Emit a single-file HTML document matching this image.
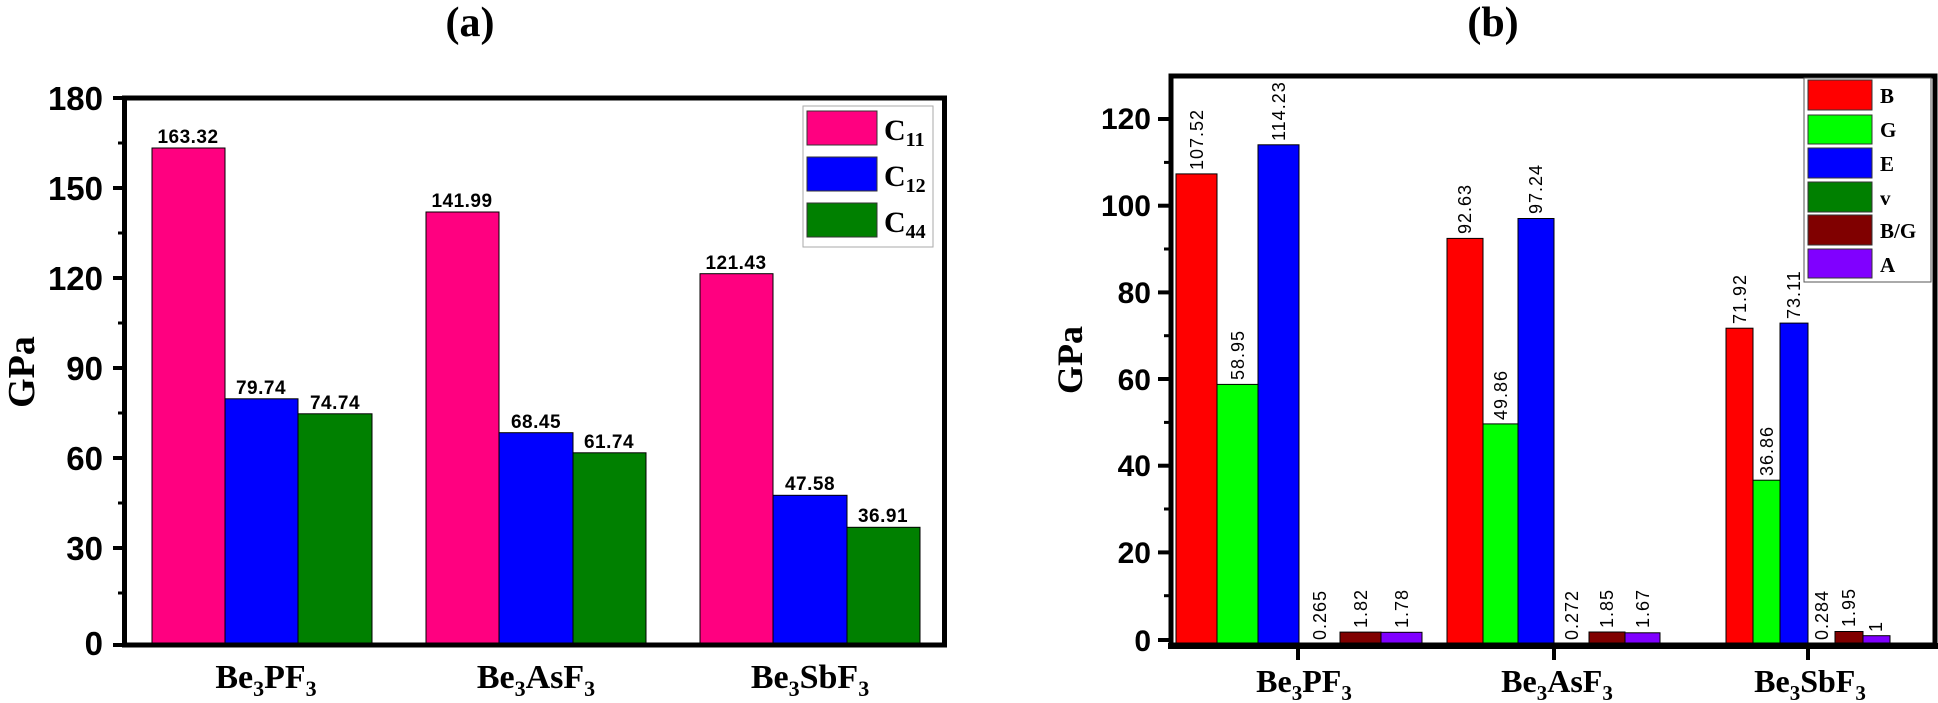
<!DOCTYPE html>
<html><head><meta charset="utf-8"><style>
html,body{margin:0;padding:0;background:#fff;}
svg{display:block;}
.t{font-family:"Liberation Sans",sans-serif;font-weight:bold;}
.s{font-family:"Liberation Serif",serif;font-weight:bold;}
</style></head><body>
<svg width="1938" height="703" viewBox="0 0 1938 703" xmlns="http://www.w3.org/2000/svg">
<!-- Titles -->
<text class="s" x="470" y="36" font-size="42" text-anchor="middle">(a)</text>
<text class="s" x="1493" y="36" font-size="42" text-anchor="middle">(b)</text>

<!-- ===== Chart A ===== -->
<g stroke="#000" stroke-width="1">
<rect x="152" y="148" width="73" height="497" fill="#ff0080"/>
<rect x="225" y="398.8" width="73" height="246.2" fill="#0000ff"/>
<rect x="298" y="413.8" width="74" height="231.2" fill="#008000"/>
<rect x="426" y="212" width="73" height="433" fill="#ff0080"/>
<rect x="499" y="432.7" width="74" height="212.3" fill="#0000ff"/>
<rect x="573" y="452.8" width="73" height="192.2" fill="#008000"/>
<rect x="700" y="273.7" width="73" height="371.3" fill="#ff0080"/>
<rect x="773" y="495.3" width="74" height="149.7" fill="#0000ff"/>
<rect x="847" y="527.3" width="73" height="117.7" fill="#008000"/>
</g>
<g class="t" font-size="19" text-anchor="middle" letter-spacing="0.5">
<text x="188" y="143">163.32</text>
<text x="261" y="394">79.74</text>
<text x="335" y="409">74.74</text>
<text x="462" y="207">141.99</text>
<text x="536" y="428">68.45</text>
<text x="609" y="448">61.74</text>
<text x="736" y="269">121.43</text>
<text x="810" y="490">47.58</text>
<text x="883" y="522">36.91</text>
</g>
<!-- frame A -->
<rect x="124.5" y="98" width="820" height="547" fill="none" stroke="#000" stroke-width="5"/>
<g stroke="#000" stroke-width="4">
<line x1="113" y1="98" x2="124" y2="98"/><line x1="113" y1="188" x2="124" y2="188"/>
<line x1="113" y1="278" x2="124" y2="278"/><line x1="113" y1="368" x2="124" y2="368"/>
<line x1="113" y1="458" x2="124" y2="458"/><line x1="113" y1="548" x2="124" y2="548"/>
<line x1="113" y1="645" x2="124" y2="645"/>
</g>
<g stroke="#000" stroke-width="3">
<line x1="118" y1="143" x2="124" y2="143"/><line x1="118" y1="233" x2="124" y2="233"/>
<line x1="118" y1="323" x2="124" y2="323"/><line x1="118" y1="413" x2="124" y2="413"/>
<line x1="118" y1="503" x2="124" y2="503"/><line x1="118" y1="593" x2="124" y2="593"/>
</g>
<g class="t" font-size="33" text-anchor="end">
<text x="103" y="110">180</text><text x="103" y="200">150</text>
<text x="103" y="290">120</text><text x="103" y="380">90</text>
<text x="103" y="470">60</text><text x="103" y="560">30</text>
<text x="103" y="655">0</text>
</g>
<text class="s" font-size="38" text-anchor="middle" transform="translate(34,372) rotate(-90)">GPa</text>
<g class="s" font-size="34" text-anchor="middle">
<text x="266" y="688">Be<tspan font-size="22" dy="8">3</tspan><tspan dy="-8">PF</tspan><tspan font-size="22" dy="8">3</tspan></text>
<text x="536" y="688">Be<tspan font-size="22" dy="8">3</tspan><tspan dy="-8">AsF</tspan><tspan font-size="22" dy="8">3</tspan></text>
<text x="810" y="688">Be<tspan font-size="22" dy="8">3</tspan><tspan dy="-8">SbF</tspan><tspan font-size="22" dy="8">3</tspan></text>
</g>
<!-- legend A -->
<rect x="803" y="106" width="130" height="141" fill="#fff" stroke="#aaa" stroke-width="1"/>
<g stroke="#333" stroke-width="1">
<rect x="807" y="111" width="70" height="34" fill="#ff0080"/>
<rect x="807" y="157" width="70" height="34" fill="#0000ff"/>
<rect x="807" y="203" width="70" height="34" fill="#008000"/>
</g>
<g class="s" font-size="30">
<text x="884" y="140">C<tspan font-size="20" dy="6">11</tspan></text>
<text x="884" y="186">C<tspan font-size="20" dy="6">12</tspan></text>
<text x="884" y="232">C<tspan font-size="20" dy="6">44</tspan></text>
</g>

<!-- ===== Chart B ===== -->
<g stroke="#000" stroke-width="1">
<rect x="1176" y="173.9" width="41" height="471" fill="#ff0000"/>
<rect x="1217" y="384.4" width="41" height="261" fill="#00ff00"/>
<rect x="1258" y="144.8" width="41" height="500" fill="#0000ff"/>
<rect x="1299" y="643.5" width="41" height="2" fill="#008000"/>
<rect x="1340" y="632.1" width="41" height="13" fill="#800000"/>
<rect x="1381" y="632.3" width="41" height="13" fill="#8000ff"/>
<rect x="1447" y="238.4" width="36" height="407" fill="#ff0000"/>
<rect x="1483" y="423.9" width="35" height="221" fill="#00ff00"/>
<rect x="1518" y="218.5" width="36" height="427" fill="#0000ff"/>
<rect x="1554" y="643.5" width="35" height="2" fill="#008000"/>
<rect x="1589" y="632" width="36" height="13" fill="#800000"/>
<rect x="1625" y="632.8" width="35" height="12" fill="#8000ff"/>
<rect x="1726" y="328.2" width="27" height="317" fill="#ff0000"/>
<rect x="1753" y="480.2" width="27" height="165" fill="#00ff00"/>
<rect x="1780" y="323.1" width="28" height="322" fill="#0000ff"/>
<rect x="1808" y="643.5" width="27" height="2" fill="#008000"/>
<rect x="1835" y="631.5" width="28" height="14" fill="#800000"/>
<rect x="1863" y="635.7" width="27" height="10" fill="#8000ff"/>
</g>
<g font-family="Liberation Sans, sans-serif" font-size="18" letter-spacing="1">
<text transform="translate(1203,170) rotate(-90)">107.52</text>
<text transform="translate(1244,380) rotate(-90)">58.95</text>
<text transform="translate(1285,141) rotate(-90)">114.23</text>
<text transform="translate(1326,640) rotate(-90)">0.265</text>
<text transform="translate(1367,628) rotate(-90)">1.82</text>
<text transform="translate(1408,628) rotate(-90)">1.78</text>
<text transform="translate(1471,234) rotate(-90)">92.63</text>
<text transform="translate(1507,420) rotate(-90)">49.86</text>
<text transform="translate(1542,214) rotate(-90)">97.24</text>
<text transform="translate(1578,640) rotate(-90)">0.272</text>
<text transform="translate(1613,628) rotate(-90)">1.85</text>
<text transform="translate(1649,628) rotate(-90)">1.67</text>
<text transform="translate(1746,324) rotate(-90)">71.92</text>
<text transform="translate(1773,476) rotate(-90)">36.86</text>
<text transform="translate(1800,319) rotate(-90)">73.11</text>
<text transform="translate(1828,640) rotate(-90)">0.284</text>
<text transform="translate(1855,627) rotate(-90)">1.95</text>
<text transform="translate(1882,632) rotate(-90)">1</text>
</g>
<!-- frame B -->
<rect x="1171" y="76" width="764" height="569" fill="none" stroke="#000" stroke-width="5"/>
<line x1="1168" y1="646" x2="1938" y2="646" stroke="#000" stroke-width="6"/>
<g stroke="#000" stroke-width="4">
<line x1="1158" y1="119" x2="1170" y2="119"/><line x1="1158" y1="205.7" x2="1170" y2="205.7"/>
<line x1="1158" y1="292.4" x2="1170" y2="292.4"/><line x1="1158" y1="379" x2="1170" y2="379"/>
<line x1="1158" y1="465.7" x2="1170" y2="465.7"/><line x1="1158" y1="552.4" x2="1170" y2="552.4"/>
<line x1="1158" y1="640" x2="1170" y2="640"/>
<line x1="1298" y1="646" x2="1298" y2="660"/><line x1="1554" y1="646" x2="1554" y2="660"/>
<line x1="1808" y1="646" x2="1808" y2="660"/>
</g>
<g stroke="#000" stroke-width="3">
<line x1="1164" y1="162.4" x2="1170" y2="162.4"/><line x1="1164" y1="249" x2="1170" y2="249"/>
<line x1="1164" y1="335.7" x2="1170" y2="335.7"/><line x1="1164" y1="422.4" x2="1170" y2="422.4"/>
<line x1="1164" y1="509" x2="1170" y2="509"/><line x1="1164" y1="595.7" x2="1170" y2="595.7"/>
</g>
<g class="t" font-size="30" text-anchor="end">
<text x="1151" y="129">120</text><text x="1151" y="216">100</text>
<text x="1151" y="303">80</text><text x="1151" y="390">60</text>
<text x="1151" y="476">40</text><text x="1151" y="563">20</text>
<text x="1151" y="651">0</text>
</g>
<text class="s" font-size="36" text-anchor="middle" transform="translate(1082,360) rotate(-90)">GPa</text>
<g class="s" font-size="32" text-anchor="middle">
<text x="1304" y="692">Be<tspan font-size="21" dy="8">3</tspan><tspan dy="-8">PF</tspan><tspan font-size="21" dy="8">3</tspan></text>
<text x="1557" y="692">Be<tspan font-size="21" dy="8">3</tspan><tspan dy="-8">AsF</tspan><tspan font-size="21" dy="8">3</tspan></text>
<text x="1810" y="692">Be<tspan font-size="21" dy="8">3</tspan><tspan dy="-8">SbF</tspan><tspan font-size="21" dy="8">3</tspan></text>
</g>
<!-- legend B -->
<rect x="1804" y="78" width="127" height="204" fill="#fff" stroke="#555" stroke-width="1"/>
<g stroke="#333" stroke-width="1">
<rect x="1808" y="80" width="64" height="30" fill="#ff0000"/>
<rect x="1808" y="115" width="64" height="29" fill="#00ff00"/>
<rect x="1808" y="148" width="64" height="30" fill="#0000ff"/>
<rect x="1808" y="182" width="64" height="30" fill="#008000"/>
<rect x="1808" y="215" width="64" height="30" fill="#800000"/>
<rect x="1808" y="249" width="64" height="29" fill="#8000ff"/>
</g>
<g class="s" font-size="21">
<text x="1880" y="103">B</text><text x="1880" y="137">G</text>
<text x="1880" y="171">E</text><text x="1880" y="205">v</text>
<text x="1880" y="238">B/G</text><text x="1880" y="272">A</text>
</g>
</svg>
</body></html>
